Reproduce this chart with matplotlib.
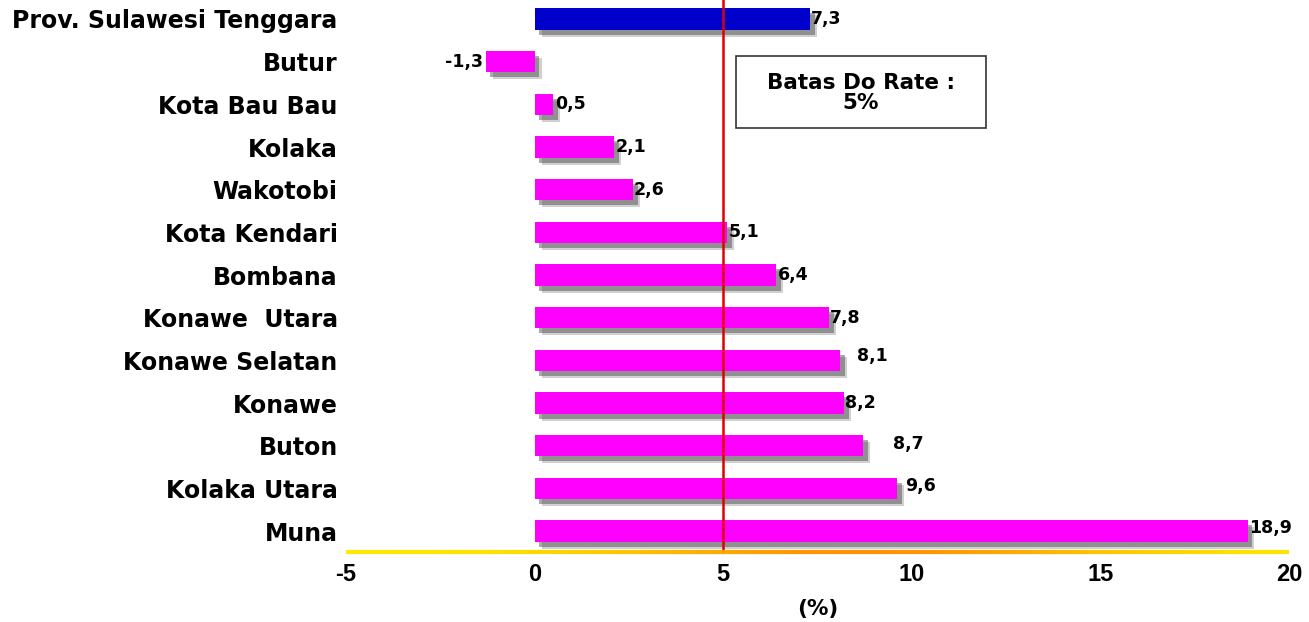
import matplotlib
matplotlib.use("Agg")
import matplotlib.pyplot as plt
import matplotlib.patheffects as pe
from matplotlib.patches import Rectangle
from matplotlib.collections import LineCollection
import numpy as np

categories = ["Prov. Sulawesi Tenggara", "Butur", "Kota Bau Bau", "Kolaka", "Wakotobi",
              "Kota Kendari", "Bombana", "Konawe  Utara", "Konawe Selatan", "Konawe",
              "Buton", "Kolaka Utara", "Muna"]
values = [7.3, -1.3, 0.5, 2.1, 2.6, 5.1, 6.4, 7.8, 8.1, 8.2, 8.7, 9.6, 18.9]
bar_colors = ["#0000CC"] + ["#FF00FF"] * 12
label_offsets = [(1, 0), (-2, 0), (1, 0), (1, 0), (1, 0), (1, 0), (1, 0), (1, 0),
                 (12, 3), (1, 0), (22, 1), (6, 2), (1, 2)]
xticks = [-5, 0, 5, 10, 15, 20]
threshold = 5
box_text = "Batas Do Rate :\n5%"
xlabel = "(%)"

WIDE = ['DejaVu Sans']
NARROW = ['Liberation Sans Narrow', 'Liberation Sans', 'DejaVu Sans']
plt.rcParams['font.family'] = WIDE
plt.rcParams['font.weight'] = 'bold'

fig = plt.figure(figsize=(13.09, 6.22), dpi=100)
ax = fig.add_axes([346/1309, 1-552/622, (1289-346)/1309, 552/622])

y = np.arange(len(categories))
bars = ax.barh(y, values, height=0.5, color=bar_colors, zorder=2)
for b in bars:
    b.set_path_effects([
        pe.SimplePatchShadow(offset=(5, -5), shadow_rgbFace='#444444', alpha=0.25),
        pe.SimplePatchShadow(offset=(3.5, -3.5), shadow_rgbFace='#444444', alpha=0.45),
        pe.Normal()])

for i, (v, off) in enumerate(zip(values, label_offsets)):
    txt = f"{v:.1f}".replace(".", ",")
    ax.annotate(txt, (v, i), xytext=off, textcoords='offset points',
                ha='left' if v >= 0 else 'right', va='center',
                fontsize=12.5, fontweight='bold', family=WIDE, zorder=5)

ax.axvline(threshold, color='#E00000', lw=1.8, zorder=3)

ax.set_xlim(xticks[0], xticks[-1])
ax.set_ylim(12.49, -0.445)
ax.set_yticks(y)
ax.set_yticklabels(categories, fontsize=17, fontweight='bold', family=WIDE)
ax.set_xticks(xticks)
ax.set_xticklabels([str(t) for t in xticks], fontsize=17, fontweight='bold', family=NARROW)
ax.tick_params(axis='both', length=0)
ax.tick_params(axis='y', pad=6)
ax.tick_params(axis='x', pad=8)
for s in ax.spines.values():
    s.set_visible(False)

# yellow-orange axis line
n = 200
xs = np.linspace(xticks[0], xticks[-1], n + 1)
segs = [[(xs[k], 0), (xs[k + 1], 0)] for k in range(n)]
tpos = np.linspace(0, 1, n)
w = np.exp(-((tpos - 0.55) / 0.28) ** 2)
cols = [(1.0, 0.92 - 0.35 * wi, 0.0) for wi in w]
lc = LineCollection(segs, colors=cols, linewidths=3, transform=ax.get_xaxis_transform(),
                    clip_on=False, zorder=4)
ax.add_collection(lc)

ax.set_xlabel(xlabel, fontsize=15.5, fontweight='bold', labelpad=9, family=WIDE)

fig.patches.append(Rectangle((736/1309, 1-128/622), 250/1309, 72/622,
                             transform=fig.transFigure, fill=False, edgecolor='#333333', lw=1.2))
fig.text(861/1309, 1-93/622, box_text, ha='center', va='center', fontsize=15.5,
         fontweight='bold', linespacing=1.0, family=WIDE)

fig.savefig("out.png", dpi=100)
